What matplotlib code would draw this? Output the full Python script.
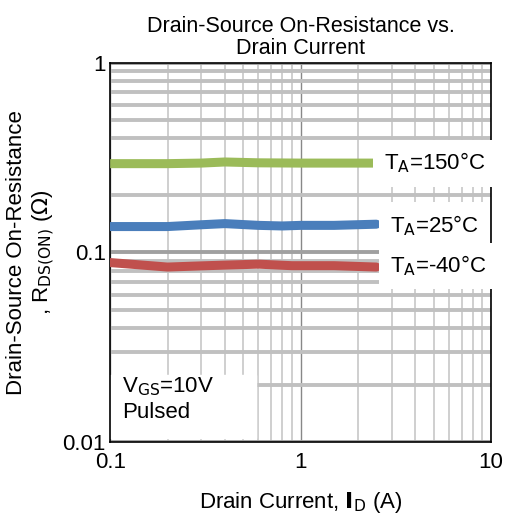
import numpy as np
import matplotlib.pyplot as plt
from matplotlib.patches import Rectangle

plt.rcParams['font.family'] = ['Liberation Sans', 'DejaVu Sans']

# ===== Curve data (Drain current in A, Rds(on) in Ohm) =====
id_150 = [0.1, 0.2, 0.3, 0.4, 0.6, 1.0, 1.5, 2.5]
r_150 = [0.294, 0.294, 0.296, 0.300, 0.297, 0.296, 0.296, 0.296]

id_25 = [0.1, 0.2, 0.3, 0.4, 0.6, 0.8, 1.0, 1.5, 2.5]
r_25 = [0.137, 0.137, 0.140, 0.142, 0.139, 0.138, 0.139, 0.139, 0.141]

id_m40 = [0.1, 0.2, 0.3, 0.4, 0.6, 0.9, 1.5, 2.5]
r_m40 = [0.0885, 0.0838, 0.0850, 0.0858, 0.0868, 0.0852, 0.0852, 0.0838]

fig = plt.figure(figsize=(5.1, 5.19), dpi=100)
ax = fig.add_axes([0.216, 0.148, 0.747, 0.731])

ax.set_xscale('log')
ax.set_yscale('log')
ax.set_xlim(0.1, 10)
ax.set_ylim(0.01, 1)

# grid: heavy horizontal, light vertical
ax.grid(True, which='minor', axis='y', color='#c0c0c0', linewidth=2.8)
ax.grid(True, which='major', axis='y', color='#a0a0a0', linewidth=2.8)
ax.grid(True, which='minor', axis='x', color='#cccccc', linewidth=1.3)
ax.grid(True, which='major', axis='x', color='#888888', linewidth=1.0)
ax.set_axisbelow(True)
ax.tick_params(which='both', length=0)
ax.tick_params(axis='y', labelsize=16, pad=3)
ax.tick_params(axis='x', labelsize=16, pad=7)

ax.set_xticks([0.1, 1, 10])
ax.set_xticklabels(['0.1', '1', '10'])
ax.set_yticks([0.01, 0.1, 1])
ax.set_yticklabels(['0.01', '0.1', '1'])
ax.set_xticklabels([], minor=True)
ax.set_yticklabels([], minor=True)

for s in ax.spines.values():
    s.set_linewidth(1.2)

# white block behind the test-condition note
ax.add_patch(Rectangle((0.1, 0.0105), 0.58 - 0.1, 0.0225 - 0.0105,
                       transform=ax.transData, color='white', zorder=1))

ax.plot(id_150, r_150, color='#9bbb59', linewidth=6.5, solid_capstyle='butt', zorder=3)
ax.plot(id_25, r_25, color='#4a7ebb', linewidth=6.5, solid_capstyle='round', zorder=3)
ax.plot(id_m40, r_m40, color='#c0504d', linewidth=6.5, solid_capstyle='round', zorder=3)

box = dict(facecolor='white', edgecolor='none', pad=8)
ax.text(2.75, 0.296, r'T$_\mathrm{A}$=150°C', fontsize=16, va='center', ha='left', bbox=box, zorder=4)
ax.text(2.95, 0.139, r'T$_\mathrm{A}$=25°C', fontsize=16, va='center', ha='left', bbox=box, zorder=4)
ax.text(2.95, 0.0848, r'T$_\mathrm{A}$=-40°C', fontsize=16, va='center', ha='left', bbox=box, zorder=4)

ax.text(0.115, 0.0195, r'V$_\mathrm{GS}$=10V', fontsize=16, va='center', ha='left', zorder=4)
ax.text(0.115, 0.0143, 'Pulsed', fontsize=16, va='center', ha='left', zorder=4)

ax.set_title('Drain-Source On-Resistance vs.\nDrain Current', fontsize=15.5, pad=6, linespacing=1.1)
ax.set_xlabel(r'Drain Current, $\mathbf{I}_\mathrm{D}$ (A)', fontsize=16, labelpad=12)
ax.set_ylabel('Drain-Source On-Resistance\n' + r', R$_\mathrm{DS(ON)}$ ($\Omega$)', fontsize=16, labelpad=4)

fig.savefig('out.png', dpi=100)
